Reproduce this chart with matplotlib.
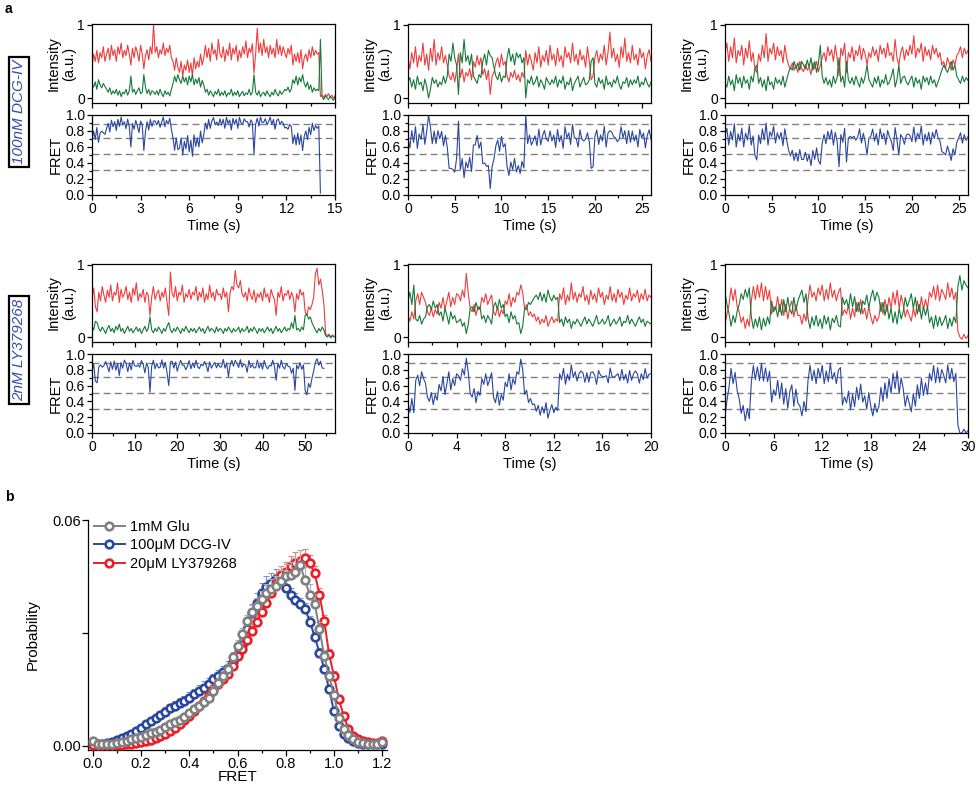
import numpy as np
import matplotlib
matplotlib.use('Agg')
import matplotlib.pyplot as plt
from matplotlib.ticker import MultipleLocator

plt.rcParams['font.family'] = ['Liberation Sans', 'DejaVu Sans']

RED = '#f03c3c'
GREEN = '#15793a'
BLUE = '#2a479f'
GREY = '#808080'

# ---- panel a: single-molecule traces (acceptor = red, donor = green) ----
r1c1_dt = 0.1
r1c1_red = [0.42, 0.60, 0.50, 0.65, 0.48, 0.62, 0.55, 0.70, 0.50, 0.60, 0.68, 0.52, 0.72, 0.58, 0.66, 0.50, 0.70, 0.60, 0.75, 0.55,
            0.65, 0.58, 0.72, 0.60, 0.45, 0.68, 0.55, 0.70, 0.62, 0.50, 0.72, 0.60, 0.40, 0.58, 0.66, 0.52, 0.70, 0.60, 1.00, 0.62,
            0.70, 0.55, 0.66, 0.60, 0.75, 0.58, 0.68, 0.62, 0.72, 0.55, 0.50, 0.38, 0.55, 0.42, 0.35, 0.50, 0.30, 0.45, 0.38, 0.52,
            0.35, 0.48, 0.30, 0.55, 0.40, 0.50, 0.42, 0.60, 0.45, 0.55, 0.72, 0.55, 0.68, 0.50, 0.75, 0.60, 0.66, 0.52, 0.80, 0.60,
            0.55, 0.70, 0.50, 0.66, 0.58, 0.75, 0.52, 0.68, 0.60, 0.72, 0.50, 0.65, 0.55, 0.70, 0.60, 0.78, 0.55, 0.68, 0.62, 0.74,
            0.34, 0.60, 0.95, 0.62, 0.75, 0.58, 0.80, 0.62, 0.70, 0.55, 0.72, 0.60, 0.68, 0.55, 0.80, 0.60, 0.72, 0.58, 0.70, 0.62,
            0.55, 0.68, 0.60, 0.72, 0.45, 0.60, 0.50, 0.62, 0.48, 0.66, 0.40, 0.55, 0.60, 0.50, 0.66, 0.55, 0.70, 0.58, 0.65, 0.60,
            0.62, 0.02, 0.04, 0.00, 0.05, 0.02, 0.06, 0.01, 0.04, 0.00, 0.03]
r1c1_green = [0.20, 0.15, 0.22, 0.12, 0.25, 0.18, 0.14, 0.20, 0.16, 0.12, 0.08, 0.14, 0.05, 0.10, 0.06, 0.12, 0.04, 0.10, 0.02, 0.08,
              0.06, 0.12, 0.04, 0.10, 0.30, 0.08, 0.12, 0.05, 0.10, 0.14, 0.06, 0.08, 0.32, 0.15, 0.06, 0.12, 0.04, 0.10, 0.08, 0.05,
              0.10, 0.04, 0.12, 0.06, 0.02, 0.10, 0.05, 0.08, 0.03, 0.12, 0.20, 0.30, 0.22, 0.32, 0.25, 0.20, 0.30, 0.22, 0.28, 0.18,
              0.30, 0.22, 0.32, 0.18, 0.26, 0.20, 0.28, 0.15, 0.24, 0.18, 0.08, 0.12, 0.04, 0.10, 0.06, 0.02, 0.09, 0.05, 0.12, 0.03,
              0.08, 0.04, 0.10, 0.02, 0.07, 0.05, 0.12, 0.03, 0.08, 0.04, 0.10, 0.02, 0.06, 0.09, 0.03, 0.07, 0.05, 0.12, 0.04, 0.08,
              0.32, 0.08, 0.04, 0.10, 0.02, 0.06, 0.08, 0.03, 0.10, 0.05, 0.02, 0.08, 0.04, 0.12, 0.06, 0.03, 0.10, 0.05, 0.08, 0.12,
              0.10, 0.15, 0.08, 0.12, 0.25, 0.20, 0.30, 0.18, 0.28, 0.22, 0.32, 0.20, 0.15, 0.22, 0.12, 0.18, 0.08, 0.14, 0.10, 0.12,
              0.10, 0.80, 0.02, -0.02, 0.03, 0.00, -0.02, 0.02, 0.00, -0.03, 0.01]

r1c2_dt = 0.2
r1c2_red = [0.55, 0.40, 0.62, 0.48, 0.70, 0.42, 0.58, 0.50, 0.75, 0.45, 0.60, 0.38, 0.68, 0.50, 0.80, 0.45, 0.62, 0.52, 0.70, 0.48,
            0.58, 0.45, 0.30, 0.25, 0.35, 0.22, 0.38, 0.60, 0.28, 0.40, 0.22, 0.35, 0.30, 0.40, 0.25, 0.50, 0.42, 0.58, 0.45, 0.55,
            0.32, 0.40, 0.25, 0.38, 0.05, 0.30, 0.35, 0.48, 0.55, 0.42, 0.60, 0.45, 0.50, 0.30, 0.22, 0.35, 0.28, 0.38, 0.25, 0.32,
            0.22, 0.35, 0.28, 0.65, 0.45, 0.60, 0.50, 0.38, 0.62, 0.48, 0.70, 0.42, 0.58, 0.50, 0.65, 0.45, 0.72, 0.52, 0.60, 0.44,
            0.68, 0.50, 0.58, 0.42, 0.70, 0.55, 0.62, 0.48, 0.75, 0.50, 0.60, 0.45, 0.66, 0.52, 0.58, 0.42, 0.70, 0.50, 0.25, 0.30,
            0.55, 0.65, 0.48, 0.60, 0.52, 0.72, 0.45, 0.62, 0.90, 0.55, 0.68, 0.50, 0.60, 0.42, 0.70, 0.55, 0.82, 0.50, 0.62, 0.48,
            0.72, 0.52, 0.60, 0.45, 0.68, 0.55, 0.62, 0.40, 0.58, 0.66, 0.50]
r1c2_green = [0.22, 0.28, 0.15, 0.25, 0.12, 0.30, 0.18, 0.22, 0.10, 0.26, 0.16, 0.00, 0.12, 0.28, 0.20, 0.25, 0.15, 0.22, 0.18, 0.30,
              0.20, 0.30, 0.60, 0.50, 0.75, 0.55, 0.45, 0.05, 0.62, 0.48, 0.80, 0.50, 0.58, 0.45, 0.60, 0.30, 0.25, 0.20, 0.32, 0.28,
              0.50, 0.60, 0.45, 0.65, 0.58, 0.55, 0.42, 0.30, 0.25, 0.35, 0.22, 0.30, 0.28, 0.55, 0.68, 0.50, 0.60, 0.45, 0.62, 0.55,
              0.60, 0.48, 0.55, 0.00, 0.25, 0.20, 0.30, 0.18, 0.22, 0.30, 0.15, 0.25, 0.20, 0.12, 0.28, 0.22, 0.18, 0.25, 0.20, 0.30,
              0.15, 0.25, 0.20, 0.30, 0.12, 0.22, 0.18, 0.28, 0.10, 0.20, 0.25, 0.30, 0.15, 0.22, 0.28, 0.18, 0.20, 0.25, 0.50, 0.55,
              0.20, 0.15, 0.28, 0.20, 0.25, 0.12, 0.30, 0.18, 0.22, 0.15, 0.25, 0.20, 0.30, 0.18, 0.12, 0.22, 0.20, 0.28, 0.15, 0.25,
              0.18, 0.25, 0.20, 0.30, 0.15, 0.22, 0.18, 0.28, 0.20, 0.15, 0.22]

r1c3_dt = 0.2
r1c3_red = [0.62, 0.75, 0.50, 0.70, 0.55, 0.82, 0.48, 0.65, 0.58, 0.72, 0.45, 0.68, 0.55, 0.78, 0.50, 0.62, 0.40, 0.35, 0.60, 0.50,
            0.72, 0.55, 0.88, 0.50, 0.68, 0.60, 0.75, 0.52, 0.70, 0.58, 0.65, 0.48, 0.72, 0.55, 0.45, 0.40, 0.48, 0.38, 0.45, 0.35,
            0.50, 0.40, 0.36, 0.46, 0.38, 0.42, 0.32, 0.48, 0.40, 0.50, 0.36, 0.45, 0.55, 0.62, 0.50, 0.70, 0.58, 0.66, 0.50, 0.72,
            0.55, 0.30, 0.68, 0.58, 0.75, 0.35, 0.62, 0.55, 0.70, 0.50, 0.65, 0.58, 0.72, 0.52, 0.68, 0.60, 0.45, 0.62, 0.55, 0.70,
            0.58, 0.66, 0.50, 0.72, 0.60, 0.68, 0.55, 0.75, 0.58, 0.62, 0.50, 0.80, 0.55, 0.45, 0.62, 0.70, 0.52, 0.66, 0.58, 0.72,
            0.60, 0.85, 0.55, 0.68, 0.62, 0.75, 0.50, 0.70, 0.58, 0.66, 0.52, 0.72, 0.60, 0.68, 0.55, 0.62, 0.45, 0.50, 0.40, 0.55,
            0.48, 0.38, 0.52, 0.45, 0.58, 0.62, 0.70, 0.55, 0.68, 0.60, 0.65]
r1c3_green = [0.20, 0.15, 0.30, 0.18, 0.25, 0.10, 0.32, 0.20, 0.28, 0.14, 0.30, 0.20, 0.25, 0.12, 0.30, 0.22, 0.40, 0.45, 0.20, 0.28,
              0.15, 0.25, 0.10, 0.30, 0.18, 0.22, 0.12, 0.28, 0.20, 0.25, 0.18, 0.30, 0.15, 0.25, 0.35, 0.42, 0.38, 0.50, 0.40, 0.48,
              0.38, 0.50, 0.45, 0.40, 0.52, 0.42, 0.55, 0.38, 0.50, 0.35, 0.48, 0.72, 0.30, 0.20, 0.28, 0.18, 0.25, 0.15, 0.30, 0.20,
              0.28, 0.55, 0.22, 0.30, 0.15, 0.50, 0.25, 0.20, 0.28, 0.18, 0.30, 0.22, 0.15, 0.28, 0.20, 0.30, 0.45, 0.25, 0.20, 0.15,
              0.28, 0.20, 0.30, 0.15, 0.25, 0.20, 0.32, 0.18, 0.22, 0.30, 0.40, 0.15, 0.25, 0.45, 0.20, 0.28, 0.30, 0.22, 0.18, 0.25,
              0.30, 0.15, 0.28, 0.20, 0.25, 0.12, 0.30, 0.22, 0.28, 0.18, 0.30, 0.20, 0.25, 0.15, 0.22, 0.30, 0.38, 0.45, 0.40, 0.35,
              0.42, 0.50, 0.38, 0.45, 0.30, 0.25, 0.20, 0.30, 0.22, 0.28, 0.24]

r2c1_dt = 0.4
r2c1_red = [0.55, 0.68, 0.42, 0.35, 0.62, 0.50, 0.70, 0.58, 0.48, 0.65, 0.55, 0.72, 0.50, 0.62, 0.58, 0.75, 0.48, 0.66, 0.55, 0.60,
            0.70, 0.52, 0.62, 0.48, 0.68, 0.58, 0.75, 0.50, 0.60, 0.55, 0.66, 0.48, 0.62, 0.58, 0.30, 0.55, 0.70, 0.52, 0.60, 0.65,
            0.50, 0.62, 0.55, 0.68, 0.48, 0.30, 0.90, 0.60, 0.55, 0.70, 0.50, 0.62, 0.58, 0.72, 0.48, 0.60, 0.55, 0.66, 0.52, 0.62,
            0.58, 0.70, 0.50, 0.62, 0.55, 0.68, 0.48, 0.60, 0.52, 0.72, 0.55, 0.62, 0.50, 0.66, 0.58, 0.60, 0.52, 0.68, 0.55, 0.62,
            0.35, 0.62, 0.70, 0.65, 0.92, 0.72, 0.68, 0.78, 0.60, 0.55, 0.62, 0.50, 0.68, 0.58, 0.52, 0.65, 0.48, 0.60, 0.55, 0.62,
            0.50, 0.68, 0.55, 0.60, 0.48, 0.66, 0.58, 0.52, 0.30, 0.62, 0.55, 0.70, 0.50, 0.60, 0.58, 0.65, 0.52, 0.62, 0.55, 0.35,
            0.60, 0.52, 0.66, 0.58, 0.62, 0.35, 0.30, 0.42, 0.38, 0.45, 0.55, 0.88, 0.95, 0.72, 0.80, 0.65, 0.45, 0.05, 0.02, 0.04,
            0.00, 0.03, 0.01]
r2c1_green = [0.15, 0.10, 0.22, 0.20, 0.12, 0.08, 0.14, 0.10, 0.05, 0.12, 0.16, 0.08, 0.12, 0.06, 0.15, 0.10, 0.18, 0.08, 0.12, 0.05,
              0.10, 0.15, 0.08, 0.12, 0.06, 0.10, 0.14, 0.08, 0.12, 0.05, 0.10, 0.15, 0.08, 0.12, 0.28, 0.10, 0.06, 0.12, 0.08, 0.14,
              0.10, 0.05, 0.12, 0.08, 0.15, 0.20, 0.10, 0.06, 0.12, 0.08, 0.14, 0.10, 0.05, 0.12, 0.08, 0.15, 0.10, 0.06, 0.12, 0.08,
              0.12, 0.06, 0.10, 0.14, 0.08, 0.12, 0.05, 0.10, 0.15, 0.08, 0.12, 0.10, 0.06, 0.14, 0.08, 0.12, 0.10, 0.05, 0.12, 0.08,
              0.14, 0.10, 0.06, 0.12, 0.08, 0.10, 0.14, 0.06, 0.12, 0.08, 0.10, 0.15, 0.06, 0.12, 0.08, 0.14, 0.10, 0.05, 0.12, 0.08,
              0.12, 0.06, 0.10, 0.14, 0.08, 0.12, 0.05, 0.10, 0.15, 0.08, 0.12, 0.06, 0.10, 0.14, 0.08, 0.12, 0.10, 0.20, 0.12, 0.30,
              0.10, 0.12, 0.08, 0.14, 0.10, 0.30, 0.32, 0.25, 0.28, 0.20, 0.15, 0.10, 0.06, 0.12, 0.08, 0.14, 0.10, 0.02, 0.00, 0.03,
              -0.01, 0.02, 0.00]

r2c2_dt = 0.16
r2c2_red = [0.30, 0.22, 0.35, 0.25, 0.50, 0.60, 0.45, 0.62, 0.55, 0.48, 0.35, 0.30, 0.40, 0.28, 0.38, 0.32, 0.48, 0.40, 0.55, 0.38,
            0.50, 0.62, 0.42, 0.55, 0.45, 0.60, 0.58, 0.50, 0.65, 0.55, 0.88, 0.60, 0.40, 0.35, 0.45, 0.30, 0.42, 0.38, 0.55, 0.48,
            0.60, 0.45, 0.52, 0.58, 0.35, 0.30, 0.42, 0.28, 0.38, 0.32, 0.50, 0.45, 0.60, 0.42, 0.55, 0.48, 0.62, 0.58, 0.72, 0.62,
            0.38, 0.45, 0.30, 0.35, 0.28, 0.32, 0.22, 0.28, 0.18, 0.25, 0.20, 0.30, 0.15, 0.22, 0.28, 0.20, 0.25, 0.22, 0.60, 0.52,
            0.68, 0.45, 0.58, 0.50, 0.75, 0.52, 0.62, 0.48, 0.60, 0.55, 0.70, 0.50, 0.58, 0.45, 0.65, 0.52, 0.60, 0.48, 0.68, 0.55,
            0.62, 0.45, 0.58, 0.52, 0.70, 0.50, 0.60, 0.48, 0.66, 0.55, 0.62, 0.45, 0.58, 0.52, 0.68, 0.50, 0.60, 0.55, 0.65, 0.48,
            0.60, 0.52, 0.66, 0.50, 0.58, 0.55]
r2c2_green = [0.50, 0.62, 0.45, 0.72, 0.25, 0.22, 0.30, 0.18, 0.25, 0.28, 0.42, 0.45, 0.38, 0.50, 0.40, 0.45, 0.30, 0.35, 0.22, 0.40,
              0.30, 0.18, 0.35, 0.25, 0.30, 0.20, 0.22, 0.25, 0.15, 0.20, 0.05, 0.18, 0.40, 0.42, 0.35, 0.48, 0.38, 0.42, 0.25, 0.30,
              0.20, 0.30, 0.25, 0.18, 0.42, 0.48, 0.38, 0.52, 0.40, 0.45, 0.28, 0.32, 0.20, 0.35, 0.25, 0.30, 0.18, 0.20, 0.05, 0.15,
              0.40, 0.38, 0.48, 0.45, 0.50, 0.55, 0.58, 0.52, 0.62, 0.50, 0.60, 0.48, 0.65, 0.55, 0.50, 0.58, 0.52, 0.55, 0.20, 0.25,
              0.15, 0.28, 0.20, 0.25, 0.12, 0.22, 0.18, 0.25, 0.20, 0.15, 0.22, 0.28, 0.18, 0.25, 0.20, 0.15, 0.22, 0.30, 0.18, 0.20,
              0.25, 0.18, 0.22, 0.30, 0.15, 0.20, 0.25, 0.18, 0.22, 0.28, 0.15, 0.22, 0.20, 0.30, 0.18, 0.25, 0.20, 0.15, 0.22, 0.28,
              0.20, 0.25, 0.15, 0.22, 0.20, 0.18]

r2c3_dt = 0.25
r2c3_red = [0.18, 0.32, 0.45, 0.68, 0.50, 0.66, 0.42, 0.35, 0.20, 0.28, 0.12, 0.25, 0.15, 0.50, 0.70, 0.52, 0.72, 0.55, 0.75, 0.50,
            0.70, 0.52, 0.65, 0.32, 0.42, 0.38, 0.56, 0.35, 0.52, 0.30, 0.45, 0.25, 0.42, 0.50, 0.28, 0.45, 0.30, 0.30, 0.18, 0.32,
            0.22, 0.52, 0.72, 0.55, 0.62, 0.50, 0.68, 0.58, 0.72, 0.50, 0.66, 0.52, 0.75, 0.55, 0.65, 0.50, 0.62, 0.68, 0.30, 0.38,
            0.32, 0.45, 0.25, 0.40, 0.28, 0.48, 0.35, 0.52, 0.32, 0.40, 0.25, 0.42, 0.28, 0.18, 0.30, 0.22, 0.28, 0.48, 0.32, 0.52,
            0.35, 0.55, 0.40, 0.62, 0.45, 0.65, 0.40, 0.58, 0.45, 0.28, 0.38, 0.30, 0.22, 0.40, 0.28, 0.50, 0.35, 0.56, 0.38, 0.52,
            0.40, 0.62, 0.55, 0.70, 0.52, 0.72, 0.50, 0.66, 0.60, 0.52, 0.75, 0.55, 0.68, 0.52, 0.62, 0.08, 0.00, -0.03, 0.04, -0.02,
            0.02]
r2c3_green = [0.62, 0.45, 0.32, 0.15, 0.30, 0.20, 0.36, 0.45, 0.60, 0.52, 0.66, 0.55, 0.68, 0.28, 0.12, 0.25, 0.14, 0.28, 0.10, 0.26,
              0.15, 0.28, 0.18, 0.50, 0.35, 0.42, 0.28, 0.45, 0.30, 0.52, 0.35, 0.55, 0.38, 0.32, 0.55, 0.36, 0.50, 0.58, 0.65, 0.48,
              0.60, 0.26, 0.12, 0.28, 0.16, 0.30, 0.15, 0.25, 0.12, 0.30, 0.18, 0.28, 0.10, 0.26, 0.20, 0.30, 0.16, 0.14, 0.55, 0.45,
              0.52, 0.40, 0.60, 0.42, 0.56, 0.35, 0.48, 0.32, 0.50, 0.45, 0.58, 0.40, 0.55, 0.65, 0.50, 0.62, 0.55, 0.35, 0.48, 0.30,
              0.45, 0.25, 0.40, 0.20, 0.35, 0.18, 0.40, 0.25, 0.35, 0.55, 0.42, 0.50, 0.60, 0.40, 0.55, 0.32, 0.45, 0.25, 0.42, 0.30,
              0.42, 0.20, 0.28, 0.12, 0.30, 0.15, 0.28, 0.16, 0.22, 0.30, 0.12, 0.26, 0.15, 0.28, 0.20, 0.70, 0.85, 0.65, 0.78, 0.72,
              0.68]

fret_levels = [0.31, 0.51, 0.71, 0.89]

# ---- panel b: FRET histograms ----
fret_bins = np.round(np.arange(61) * 0.02, 2)
glu = [0.0014, 0.0006, 0.0004, 0.0005, 0.0006, 0.0008, 0.0010, 0.0013, 0.0017, 0.0020,
       0.0023, 0.0029, 0.0034, 0.0037, 0.0042, 0.0049, 0.0057, 0.0063, 0.0069, 0.0077,
       0.0088, 0.0098, 0.0107, 0.0116, 0.0128, 0.0146, 0.0166, 0.0185, 0.0205, 0.0236,
       0.0265, 0.0296, 0.0331, 0.0355, 0.0372, 0.0390, 0.0405, 0.0418, 0.0424, 0.0437,
       0.0450, 0.0455, 0.0462, 0.0480, 0.0440, 0.0400, 0.0378, 0.0310, 0.0238, 0.0185,
       0.0135, 0.0075, 0.0045, 0.0028, 0.0018, 0.0011, 0.0008, 0.0005, 0.0004, 0.0004,
       0.0010]
dcg = [0.0005, 0.0004, 0.0005, 0.0007, 0.0010, 0.0015, 0.0021, 0.0027, 0.0032, 0.0039,
       0.0047, 0.0057, 0.0066, 0.0073, 0.0083, 0.0091, 0.0100, 0.0107, 0.0113, 0.0119,
       0.0127, 0.0137, 0.0146, 0.0155, 0.0165, 0.0177, 0.0186, 0.0196, 0.0208, 0.0224,
       0.0244, 0.0268, 0.0310, 0.0353, 0.0380, 0.0405, 0.0422, 0.0433, 0.0444, 0.0440,
       0.0420, 0.0400, 0.0388, 0.0378, 0.0364, 0.0330, 0.0290, 0.0248, 0.0205, 0.0150,
       0.0092, 0.0052, 0.0032, 0.0020, 0.0013, 0.0008, 0.0006, 0.0005, 0.0004, 0.0004,
       0.0005]
ly = [0.0003, 0.0002, 0.0001, 0.0001, 0.0001, 0.0002, 0.0003, 0.0004, 0.0005, 0.0007,
      0.0009, 0.0012, 0.0016, 0.0021, 0.0026, 0.0032, 0.0039, 0.0048, 0.0058, 0.0068,
      0.0079, 0.0092, 0.0106, 0.0120, 0.0134, 0.0150, 0.0164, 0.0178, 0.0192, 0.0212,
      0.0238, 0.0258, 0.0280, 0.0305, 0.0328, 0.0355, 0.0380, 0.0405, 0.0433, 0.0455,
      0.0463, 0.0477, 0.0485, 0.0492, 0.0499, 0.0485, 0.0459, 0.0402, 0.0331, 0.0243,
      0.0186, 0.0125, 0.0080, 0.0045, 0.0027, 0.0018, 0.0012, 0.0009, 0.0008, 0.0008,
      0.0014]
glu_err = [0.0004, 0.0003, 0.0003, 0.0003, 0.0003, 0.0003, 0.0003, 0.0004, 0.0004, 0.0004,
           0.0005, 0.0005, 0.0006, 0.0006, 0.0006, 0.0007, 0.0007, 0.0008, 0.0008, 0.0009,
           0.0009, 0.0010, 0.0010, 0.0011, 0.0011, 0.0012, 0.0012, 0.0013, 0.0013, 0.0014,
           0.0015, 0.0016, 0.0017, 0.0018, 0.0020, 0.0022, 0.0024, 0.0026, 0.0028, 0.0030,
           0.0032, 0.0034, 0.0036, 0.0040, 0.0035, 0.0030, 0.0025, 0.0020, 0.0016, 0.0013,
           0.0011, 0.0009, 0.0007, 0.0005, 0.0004, 0.0003, 0.0003, 0.0003, 0.0003, 0.0003,
           0.0003]
dcg_err = [0.0003, 0.0003, 0.0003, 0.0004, 0.0004, 0.0005, 0.0005, 0.0006, 0.0006, 0.0007,
           0.0008, 0.0008, 0.0009, 0.0010, 0.0010, 0.0011, 0.0012, 0.0012, 0.0013, 0.0014,
           0.0015, 0.0015, 0.0016, 0.0016, 0.0015, 0.0015, 0.0015, 0.0016, 0.0017, 0.0018,
           0.0019, 0.0020, 0.0022, 0.0024, 0.0026, 0.0028, 0.0028, 0.0027, 0.0026, 0.0024,
           0.0022, 0.0020, 0.0018, 0.0016, 0.0015, 0.0014, 0.0013, 0.0012, 0.0010, 0.0008,
           0.0006, 0.0005, 0.0004, 0.0003, 0.0003, 0.0003, 0.0003, 0.0003, 0.0003, 0.0003,
           0.0003]
ly_err = [0.0002, 0.0002, 0.0002, 0.0002, 0.0002, 0.0002, 0.0003, 0.0003, 0.0003, 0.0004,
          0.0004, 0.0005, 0.0005, 0.0006, 0.0006, 0.0007, 0.0007, 0.0008, 0.0008, 0.0009,
          0.0009, 0.0010, 0.0010, 0.0011, 0.0011, 0.0012, 0.0012, 0.0013, 0.0014, 0.0015,
          0.0016, 0.0017, 0.0018, 0.0019, 0.0020, 0.0020, 0.0021, 0.0022, 0.0023, 0.0024,
          0.0026, 0.0028, 0.0030, 0.0028, 0.0025, 0.0022, 0.0020, 0.0018, 0.0016, 0.0014,
          0.0012, 0.0010, 0.0008, 0.0006, 0.0005, 0.0004, 0.0003, 0.0003, 0.0003, 0.0003,
          0.0003]

W, H = 976, 785
fig = plt.figure(figsize=(W / 100, H / 100), dpi=100)


def ax_at(l, t, r, b):
    return fig.add_axes([l / W, 1 - b / H, (r - l) / W, (b - t) / H])


# red, green, frame time, time axis end, tick step, last frame with FRET
panels = [
    (r1c1_red, r1c1_green, r1c1_dt, 15, 3, 142),
    (r1c2_red, r1c2_green, r1c2_dt, 26, 5, None),
    (r1c3_red, r1c3_green, r1c3_dt, 26, 5, None),
    (r2c1_red, r2c1_green, r2c1_dt, 57, 10, 137),
    (r2c2_red, r2c2_green, r2c2_dt, 20, 4, None),
    (r2c3_red, r2c3_green, r2c3_dt, 30, 6, None),
]
lefts = [92, 408, 725]
rows = [(24, 103, 115, 195), (264, 342, 354, 433)]

for k, (red, green, dt, tmax, step, fend) in enumerate(panels):
    row, col = divmod(k, 3)
    l = lefts[col]
    it, ib, ft, fb = rows[row]
    n = min(len(red), len(green))
    red = np.array(red[:n])
    green = np.array(green[:n])
    t = np.arange(n) * dt
    tot = red + green
    safe = np.where(np.abs(tot) > 0.01, tot, 1)
    fret = np.clip(np.where(np.abs(tot) > 0.01, red / safe, 0), 0, 1)
    if fend is None:
        fend = n

    ai = ax_at(l, it, l + 243, ib)
    ai.plot(t, red, color=RED, lw=0.8)
    ai.plot(t, green, color=GREEN, lw=0.8)
    ai.set_xlim(0, tmax)
    ai.set_ylim(-0.067, 1.01)
    ai.set_yticks([0, 1])
    ai.set_yticklabels(['0', '1'])
    ai.xaxis.set_major_locator(MultipleLocator(step))
    ai.xaxis.set_minor_locator(MultipleLocator(step / 2))
    ai.tick_params(axis='x', labelbottom=False)
    ai.set_ylabel('Intensity\n(a.u.)', fontsize=10.5, linespacing=1.1)
    ai.yaxis.set_label_coords(-0.065, 0.5)

    af = ax_at(l, ft, l + 243, fb)
    for lev in fret_levels:
        af.axhline(lev, color=GREY, lw=1, ls=(0, (5, 3)), zorder=1)
    af.plot(t[:fend], fret[:fend], color=BLUE, lw=0.8, zorder=2)
    af.set_xlim(0, tmax)
    af.set_ylim(0, 1)
    af.yaxis.set_major_locator(MultipleLocator(0.2))
    af.yaxis.set_minor_locator(MultipleLocator(0.1))
    af.yaxis.set_major_formatter(plt.FormatStrFormatter('%.1f'))
    af.xaxis.set_major_locator(MultipleLocator(step))
    af.xaxis.set_minor_locator(MultipleLocator(step / 2))
    af.set_ylabel('FRET', fontsize=10.5)
    af.yaxis.set_label_coords(-0.12, 0.5)
    af.set_xlabel('Time (s)', fontsize=10.5, labelpad=2)

    for a in (ai, af):
        a.tick_params(which='both', direction='out', labelsize=10, width=0.9, pad=1.5)
        a.tick_params(which='major', length=3.5)
        a.tick_params(which='minor', length=2)
        for s in a.spines.values():
            s.set_linewidth(0.9)

side_style = dict(rotation=90, style='italic', color='#2f4fb0', fontsize=11,
                  ha='center', va='center',
                  bbox=dict(boxstyle='square,pad=0.2', fc='white', ec='black', lw=1.6))
fig.text(19 / W, 1 - 112 / H, '100nM DCG-IV', **side_style)
fig.text(19 / W, 1 - 350 / H, '2nM LY379268', **side_style)

fig.text(5 / W, 1 - 9 / H, 'a', fontsize=10, fontweight='bold', va='center')
fig.text(5 / W, 1 - 497 / H, 'b', fontsize=10, fontweight='bold', va='center')

# ---- panel b ----
ab = ax_at(88, 520, 387, 750)
series = [
    (dcg, dcg_err, BLUE, '#7f92cc', '100μM DCG-IV'),
    (ly, ly_err, '#ee1c24', '#f08080', '20μM LY379268'),
    (glu, glu_err, GREY, '#b0b0b0', '1mM Glu'),
]
handles = {}
for z, (vals, err, c, ec, lab) in enumerate(series):
    vals = np.array(vals)
    ab.errorbar(fret_bins, vals, yerr=[np.zeros_like(vals), np.array(err)], fmt='none',
                ecolor=ec, elinewidth=0.8, capsize=2, capthick=0.8, zorder=2 + 2 * z)
    ln, = ab.plot(fret_bins, vals, color=c, lw=1.4, marker='o', ms=5.5, mew=1.9,
                  mfc='white', mec=c, zorder=3 + 2 * z, label=lab)
    handles[lab] = ln

order = ['1mM Glu', '100μM DCG-IV', '20μM LY379268']
ab.legend([handles[o] for o in order], order,
          loc='upper left', bbox_to_anchor=(0.02, 1.0), frameon=False, fontsize=10.5,
          handlelength=2.1, handletextpad=0.35, labelspacing=0.3, borderpad=0,
          borderaxespad=0)
ab.set_xlim(-0.02, 1.22)
ab.set_ylim(-0.0011, 0.06)
ab.set_xticks([0, 0.2, 0.4, 0.6, 0.8, 1.0, 1.2])
ab.xaxis.set_major_formatter(plt.FormatStrFormatter('%.1f'))
ab.xaxis.set_minor_locator(MultipleLocator(0.1))
ab.set_yticks([0, 0.03, 0.06])
ab.set_yticklabels(['0.00', '', '0.06'])
ab.spines['top'].set_visible(False)
ab.spines['right'].set_visible(False)
for s in ('left', 'bottom'):
    ab.spines[s].set_linewidth(0.9)
ab.tick_params(which='both', direction='out', labelsize=10.5, width=0.9, pad=1)
ab.tick_params(which='major', length=4)
ab.tick_params(which='minor', length=2)
ab.set_xlabel('FRET', fontsize=11, labelpad=-1)
ab.set_ylabel('Probability', fontsize=11)
ab.yaxis.set_label_coords(-0.16, 0.5)

fig.savefig('out.png', dpi=100)
